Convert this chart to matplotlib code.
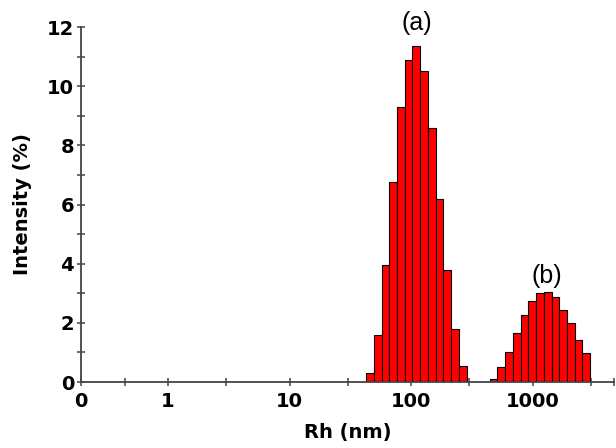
import matplotlib
matplotlib.use("Agg")

import matplotlib.pyplot as plt
import numpy as np

# Hydrodynamic radius bins (nm) and intensity (%) for the two populations
rh_a = [45.7, 52.9, 61.2, 70.9, 82.0, 94.9, 109.8, 127.2, 147.2, 170.3, 197.2, 228.2, 264.1]
int_a = [0.3, 1.6, 3.95, 6.75, 9.3, 10.9, 11.35, 10.5, 8.6, 6.2, 3.8, 1.8, 0.55]

rh_b = [474.1, 548.8, 635.2, 735.1, 850.9, 984.7, 1139.8, 1319.1, 1526.8, 1767.1, 2045.3, 2367.0, 2739.8]
int_b = [0.1, 0.5, 1.0, 1.65, 2.25, 2.75, 3.0, 3.03, 2.88, 2.45, 2.0, 1.43, 0.97]

x_major = [0.193, 1, 10, 100, 1000]
x_major_labels = ["0", "1", "10", "100", "1000"]
x_minor = [0.44, 3, 30, 300, 3000, 4630]

bin_w = 0.0635  # bin width in decades


def log_bars(ax, centers, heights):
    c = np.log10(np.asarray(centers))
    left = 10 ** (c - bin_w / 2)
    right = 10 ** (c + bin_w / 2)
    ax.bar(left, heights, width=right - left, align="edge",
           color="#ff0000", edgecolor="black", linewidth=0.8, zorder=2)


fig = plt.figure(figsize=(6.16, 4.48), dpi=100)
ax = fig.add_axes([81 / 616, 66 / 448, 533 / 616, 355 / 448])

log_bars(ax, rh_a, int_a)
log_bars(ax, rh_b, int_b)

ax.set_xscale("log")
ax.set_xlim(0.193, 4630)
ax.set_ylim(0, 12)

ax.set_xticks(x_major)
ax.set_xticklabels(x_major_labels)
ax.set_xticks(x_minor, minor=True)
ax.xaxis.set_minor_formatter(matplotlib.ticker.NullFormatter())
ax.set_yticks(np.arange(0, 13, 2))
ax.set_yticks(np.arange(1, 12, 2), minor=True)

for s in ["top", "right"]:
    ax.spines[s].set_visible(False)
for s in ["left", "bottom"]:
    ax.spines[s].set_color("#444444")
    ax.spines[s].set_linewidth(1.3)

ax.tick_params(axis="both", which="both", direction="inout", length=6,
               width=1.1, color="#444444")
ax.tick_params(axis="x", which="major", pad=4)
ax.tick_params(axis="y", which="major", pad=2)
for lbl in ax.get_xticklabels() + ax.get_yticklabels():
    lbl.set_fontsize(14)
    lbl.set_fontweight("bold")

ax.set_xlabel("Rh (nm)", fontsize=14, fontweight="bold", labelpad=9)
ax.set_ylabel("Intensity (%)", fontsize=14, fontweight="bold", labelpad=11)

ax.text(110, 12.15, "(a)", fontsize=18, family="Liberation Sans",
        ha="center", va="center", clip_on=False)
ax.text(1303, 3.6, "(b)", fontsize=18, family="Liberation Sans",
        ha="center", va="center")

fig.savefig("out.png", dpi=100)
